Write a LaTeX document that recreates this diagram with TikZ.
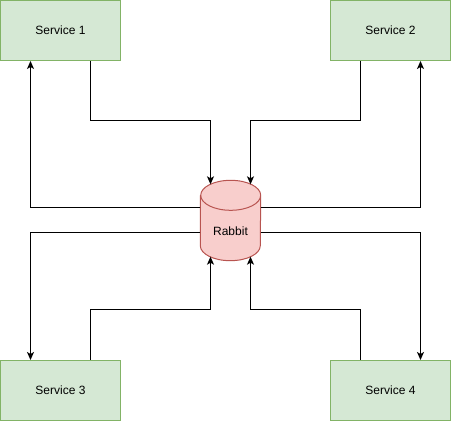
\documentclass[tikz,border=0pt]{standalone}
\usepackage{fontspec}
\setmainfont{Liberation Sans}
\usetikzlibrary{arrows.meta}
\definecolor{svcfill}{HTML}{D5E8D4}
\definecolor{svcline}{HTML}{82B366}
\definecolor{rabfill}{HTML}{F8CECC}
\definecolor{rabline}{HTML}{B85450}
\begin{document}
\begin{tikzpicture}[x=1pt,y=1pt]
	\tikzstyle{every node}+=[font=\fontsize{12}{14}\selectfont]
	\tikzstyle{service}=[draw=svcline,fill=svcfill,line width=1pt,minimum width=120pt,minimum height=60pt,inner sep=0pt]
	\tikzstyle{link}=[black,line width=1pt,-{Stealth[length=8pt,width=7pt,inset=2pt]}]
	\useasboundingbox (0,0) rectangle (451,421);
	\node[service] (s1) at (60.5,390.5) {Service 1};
	\node[service] (s2) at (390.5,390.5) {Service 2};
	\node[service] (s3) at (60.5,30.5) {Service 3};
	\node[service] (s4) at (390.5,30.5) {Service 4};
	\node[minimum width=60pt,minimum height=80pt,inner sep=0pt] (rabbit) at (230.5,200.5) {};
	\fill[rabfill] ([yshift=-15pt]rabbit.north west) -- ([yshift=15pt]rabbit.south west)
		arc[start angle=180,end angle=360,x radius=30pt,y radius=15pt] -- ([yshift=-15pt]rabbit.north east)
		arc[start angle=0,end angle=180,x radius=30pt,y radius=15pt] -- cycle;
	\draw[rabline,line width=1pt] ([yshift=-15pt]rabbit.north west) -- ([yshift=15pt]rabbit.south west)
		arc[start angle=180,end angle=360,x radius=30pt,y radius=15pt] -- ([yshift=-15pt]rabbit.north east)
		arc[start angle=0,end angle=180,x radius=30pt,y radius=15pt]
		arc[start angle=180,end angle=360,x radius=30pt,y radius=15pt];
	\node (rabbitlbl) at ([yshift=-10.5pt]rabbit.center) {Rabbit};
	\coordinate (rtl) at (210.5,236.7);
	\coordinate (rtr) at (250.5,236.7);
	\coordinate (rbl) at (210.5,164.3);
	\coordinate (rbr) at (250.5,164.3);
	\draw[link] ([xshift=30pt]s1.south) -- ++(0,-59.5) -| (rtl);
	\draw[link] ([yshift=12.5pt]rabbit.west) -| ([xshift=-30pt]s1.south);
	\draw[link] ([xshift=-30pt]s2.south) -- ++(0,-59.5) -| (rtr);
	\draw[link] ([yshift=12.5pt]rabbit.east) -| ([xshift=30pt]s2.south);
	\draw[link] ([yshift=-12.5pt]rabbit.west) -| ([xshift=-30pt]s3.north);
	\draw[link] ([xshift=30pt]s3.north) -- ++(0,50.2) -| (rbl);
	\draw[link] ([xshift=-30pt]s4.north) -- ++(0,50.2) -| (rbr);
	\draw[link] ([yshift=-12.5pt]rabbit.east) -| ([xshift=30pt]s4.north);
\end{tikzpicture}
\end{document}
